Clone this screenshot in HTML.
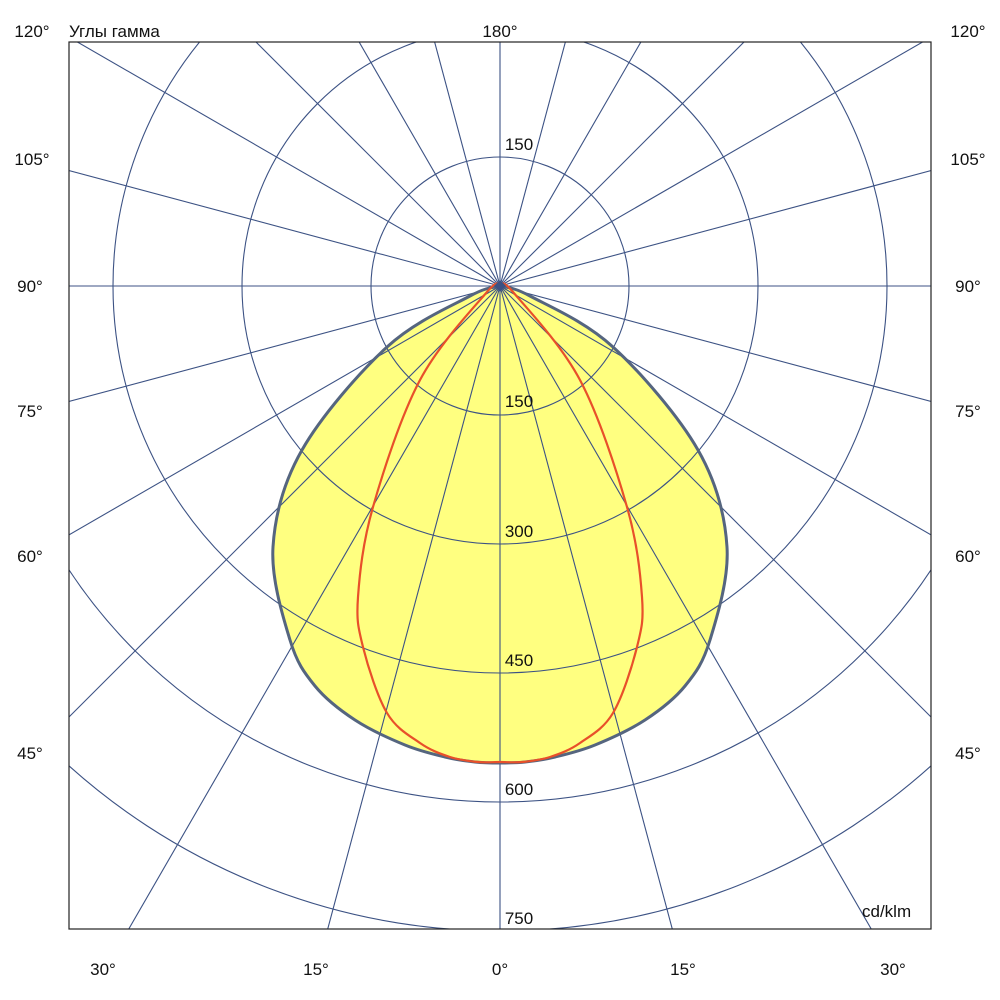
<!DOCTYPE html>
<html><head><meta charset="utf-8"><style>
html,body{margin:0;padding:0;background:#fff;overflow:hidden;width:1000px;height:1000px}
svg{display:block}
text{font-family:"Liberation Sans","DejaVu Sans",sans-serif;font-size:17px;fill:#111}
</style></head><body>
<svg id="s" width="1000" height="1000" xmlns="http://www.w3.org/2000/svg">
<defs><clipPath id="c"><rect x="69" y="42" width="862" height="887"/></clipPath></defs>
<rect x="0" y="0" width="1000" height="1000" fill="#fff"/>
<path id="yel" fill="#ffff80" stroke="none"/>
<g id="grid" clip-path="url(#c)" stroke="#3c5284" stroke-width="1.1" fill="none"></g>
<path id="yelS" fill="none" stroke="#55657f" stroke-width="3"/>
<path id="red" fill="none" stroke="#e8502a" stroke-width="2.2"/>
<rect x="69" y="42" width="862" height="887" fill="none" stroke="#222" stroke-width="1.2"/>
<polygon points="500,280 506,286 500,292 494,286" fill="#3c5284"/>
<g text-anchor="middle">
<text x="32" y="37">120°</text><text x="500" y="37">180°</text><text x="968" y="37">120°</text>
<text x="32" y="165">105°</text><text x="968" y="165">105°</text>
<text x="30" y="292">90°</text><text x="968" y="292">90°</text>
<text x="30" y="417">75°</text><text x="968" y="417">75°</text>
<text x="30" y="562">60°</text><text x="968" y="562">60°</text>
<text x="30" y="759">45°</text><text x="968" y="759">45°</text>
<text x="103" y="975">30°</text><text x="316" y="975">15°</text><text x="500" y="975">0°</text><text x="683" y="975">15°</text><text x="893" y="975">30°</text>
<text x="519" y="150">150</text><text x="519" y="407">150</text><text x="519" y="537">300</text><text x="519" y="666">450</text><text x="519" y="795">600</text><text x="519" y="924">750</text>
</g>
<text x="69" y="37">Углы гамма</text>
<text x="862" y="917">cd/klm</text>
</svg>
<script>
var cx=500,cy=286,ns="http://www.w3.org/2000/svg",g=document.getElementById('grid');
for(var k=1;k<=9;k++){var c=document.createElementNS(ns,'circle');c.setAttribute('cx',cx);c.setAttribute('cy',cy);c.setAttribute('r',129*k);g.appendChild(c);}
for(var a=0;a<360;a+=15){var r=a*Math.PI/180,l=document.createElementNS(ns,'line');l.setAttribute('x1',cx);l.setAttribute('y1',cy);l.setAttribute('x2',cx+1500*Math.sin(r));l.setAttribute('y2',cy+1500*Math.cos(r));g.appendChild(l);}
function cr(p){var d='M'+p[0][0]+','+p[0][1];for(var i=0;i<p.length-1;i++){var p0=p[i-1]||p[i],p1=p[i],p2=p[i+1],p3=p[i+2]||p2;d+=' C'+(p1[0]+(p2[0]-p0[0])/6)+','+(p1[1]+(p2[1]-p0[1])/6)+' '+(p2[0]-(p3[0]-p1[0])/6)+','+(p2[1]-(p3[1]-p1[1])/6)+' '+p2[0]+','+p2[1];}return d;}
function full(h){var L=h.slice(),R=h.slice().reverse().slice(1).map(function(q){return[1000-q[0],q[1]]});return L.concat(R);}
var Y=full([[500,286],[470,296],[387,347],[302,450],[273,547],[290,640],[315,686],[355,720],[405,745],[445,757],[475,762],[500,763]]);
var Rd=full([[500,286],[487,292],[420,380],[373,507],[358,597],[363,647],[387,713],[420,743],[450,757],[478,762],[500,762]]);
var yd=cr(Y);
document.getElementById('yel').setAttribute('d',yd+'Z');
document.getElementById('yelS').setAttribute('d',yd+'Z');
document.getElementById('red').setAttribute('d',cr(Rd));
</script>
</body></html>
